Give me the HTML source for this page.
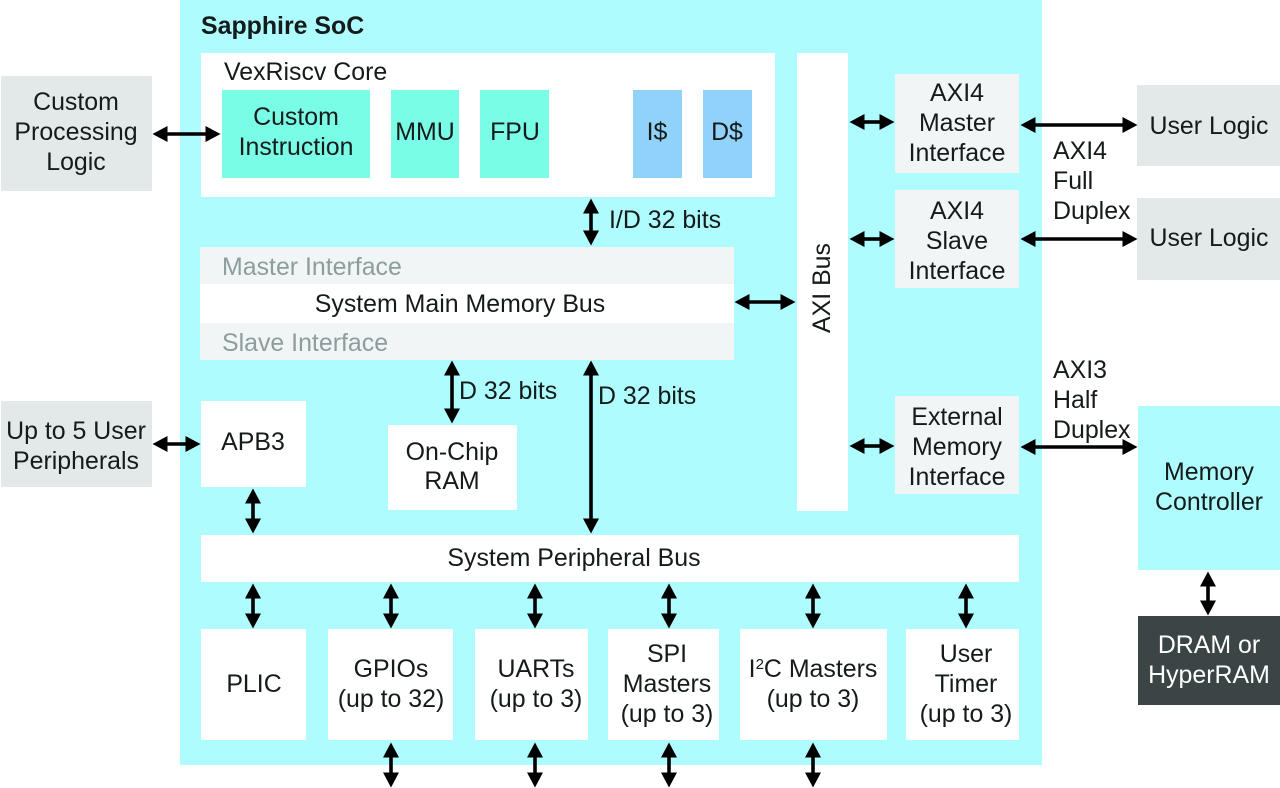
<!DOCTYPE html>
<html><head><meta charset="utf-8"><style>
html,body{margin:0;padding:0;background:#fff;width:1280px;height:788px;overflow:hidden}
svg{display:block}
text{font-family:"Liberation Sans",sans-serif;font-size:24.9px;fill:#151a1a;text-anchor:middle}
.s{text-anchor:start}
.g{fill:#8d9d9d;text-anchor:start}
.a line{stroke:#000;stroke-width:3.6;marker-start:url(#h);marker-end:url(#h)}
</style></head><body>
<svg width="1280" height="788" viewBox="0 0 1280 788" xmlns="http://www.w3.org/2000/svg">
<defs>
<marker id="h" markerUnits="userSpaceOnUse" markerWidth="16" markerHeight="16" refX="0.5" refY="8" orient="auto-start-reverse"><path d="M0 0L15 8L0 16Z" fill="#000"/></marker>
</defs>
<rect width="1280" height="788" fill="#fff"/>
<rect x="180" y="0" width="862" height="765" fill="#aefcfd"/>
<rect x="1" y="76" width="151" height="115" fill="#e2e9e8"/>
<rect x="1" y="401" width="151" height="86" fill="#e2e9e8"/>
<rect x="1137" y="85" width="143" height="81" fill="#e2e9e8"/>
<rect x="1137" y="198" width="143" height="82" fill="#e2e9e8"/>
<rect x="1138" y="406" width="142" height="164" fill="#aefcfd"/>
<rect x="1138" y="616" width="142" height="89" fill="#3b4545"/>
<g fill="#fff">
<rect x="201" y="53" width="574" height="144"/>
<rect x="797" y="53" width="51" height="458"/>
<rect x="200" y="284" width="534" height="39"/>
<rect x="201" y="401" width="105" height="86"/>
<rect x="388" y="425" width="129" height="85"/>
<rect x="201" y="535" width="818" height="47"/>
<rect x="201" y="629" width="105" height="111"/>
<rect x="328" y="629" width="125" height="111"/>
<rect x="475" y="629" width="113" height="111"/>
<rect x="608" y="629" width="111" height="111"/>
<rect x="740" y="629" width="147" height="111"/>
<rect x="906" y="629" width="113" height="111"/>
</g>
<g fill="#7afde6">
<rect x="222" y="90" width="148" height="88"/>
<rect x="391" y="90" width="68" height="88"/>
<rect x="480" y="90" width="69" height="88"/>
</g>
<g fill="#90d2fa">
<rect x="633" y="90" width="49" height="88"/>
<rect x="703" y="90" width="49" height="88"/>
</g>
<g fill="#f1f5f5">
<rect x="895" y="74" width="124" height="99"/>
<rect x="895" y="190" width="124" height="98"/>
<rect x="895" y="396" width="124" height="98"/>
<rect x="200" y="247" width="534" height="37"/>
<rect x="200" y="323" width="534" height="37"/>
</g>
<g class="a">
<line x1="167" y1="134" x2="206" y2="134"/>
<line x1="864" y1="122" x2="880" y2="122"/>
<line x1="1035" y1="125" x2="1123" y2="125"/>
<line x1="864" y1="239" x2="880" y2="239"/>
<line x1="1035" y1="239" x2="1123" y2="239"/>
<line x1="749" y1="302" x2="781" y2="302"/>
<line x1="864" y1="446" x2="880" y2="446"/>
<line x1="1035" y1="447" x2="1123" y2="447"/>
<line x1="167" y1="444" x2="186" y2="444"/>
<line x1="591" y1="213" x2="591" y2="231"/>
<line x1="452" y1="375" x2="452" y2="409"/>
<line x1="591" y1="375" x2="591" y2="519"/>
<line x1="253" y1="503" x2="253" y2="519"/>
<line x1="253" y1="598" x2="253" y2="614"/>
<line x1="391" y1="598" x2="391" y2="614"/>
<line x1="535" y1="598" x2="535" y2="614"/>
<line x1="669" y1="598" x2="669" y2="614"/>
<line x1="813" y1="598" x2="813" y2="614"/>
<line x1="966" y1="598" x2="966" y2="614"/>
<line x1="391" y1="757" x2="391" y2="773"/>
<line x1="535" y1="757" x2="535" y2="773"/>
<line x1="669" y1="757" x2="669" y2="773"/>
<line x1="813" y1="757" x2="813" y2="773"/>
<line x1="1208" y1="586" x2="1208" y2="601"/>
</g>
<text class="s" x="201" y="34" style="font-weight:bold">Sapphire SoC</text>
<text class="s" x="224" y="80">VexRiscv Core</text>
<text x="76" y="110">Custom</text>
<text x="76" y="140">Processing</text>
<text x="76" y="170">Logic</text>
<text x="296" y="125">Custom</text>
<text x="296" y="155">Instruction</text>
<text x="425" y="140">MMU</text>
<text x="515" y="140">FPU</text>
<text x="657" y="140">I$</text>
<text x="727" y="140">D$</text>
<text x="957" y="101">AXI4</text>
<text x="957" y="131">Master</text>
<text x="957" y="161">Interface</text>
<text x="957" y="219">AXI4</text>
<text x="957" y="249">Slave</text>
<text x="957" y="279">Interface</text>
<text x="957" y="425">External</text>
<text x="957" y="455">Memory</text>
<text x="957" y="485">Interface</text>
<text x="1209" y="134">User Logic</text>
<text x="1209" y="246">User Logic</text>
<text class="s" x="1053" y="159">AXI4</text>
<text class="s" x="1053" y="189">Full</text>
<text class="s" x="1053" y="219">Duplex</text>
<text class="s" x="1053" y="378">AXI3</text>
<text class="s" x="1053" y="408">Half</text>
<text class="s" x="1053" y="438">Duplex</text>
<text x="1209" y="480">Memory</text>
<text x="1209" y="510">Controller</text>
<text x="1209" y="653" style="fill:#fff">DRAM or</text>
<text x="1209" y="683" style="fill:#fff">HyperRAM</text>
<text class="s" x="609" y="228">I/D 32 bits</text>
<text class="g" x="222" y="275">Master Interface</text>
<text x="460" y="312">System Main Memory Bus</text>
<text class="g" x="222" y="351">Slave Interface</text>
<text class="s" x="459" y="399">D 32 bits</text>
<text class="s" x="598" y="404">D 32 bits</text>
<text x="76" y="439">Up to 5 User</text>
<text x="76" y="469">Peripherals</text>
<text x="253" y="450">APB3</text>
<text x="452" y="460">On-Chip</text>
<text x="452" y="489">RAM</text>
<text transform="translate(830,288) rotate(-90)" x="0" y="0">AXI Bus</text>
<text x="574" y="566">System Peripheral Bus</text>
<text x="254" y="692">PLIC</text>
<text x="391" y="677">GPIOs</text>
<text x="391" y="707">(up to 32)</text>
<text x="536" y="677">UARTs</text>
<text x="536" y="707">(up to 3)</text>
<text x="667" y="662">SPI</text>
<text x="667" y="692">Masters</text>
<text x="667" y="722">(up to 3)</text>
<text x="813" y="677">I<tspan dy="-8" font-size="15">2</tspan><tspan dy="8">C Masters</tspan></text>
<text x="813" y="707">(up to 3)</text>
<text x="966" y="662">User</text>
<text x="966" y="692">Timer</text>
<text x="966" y="722">(up to 3)</text>
</svg>
</body></html>
